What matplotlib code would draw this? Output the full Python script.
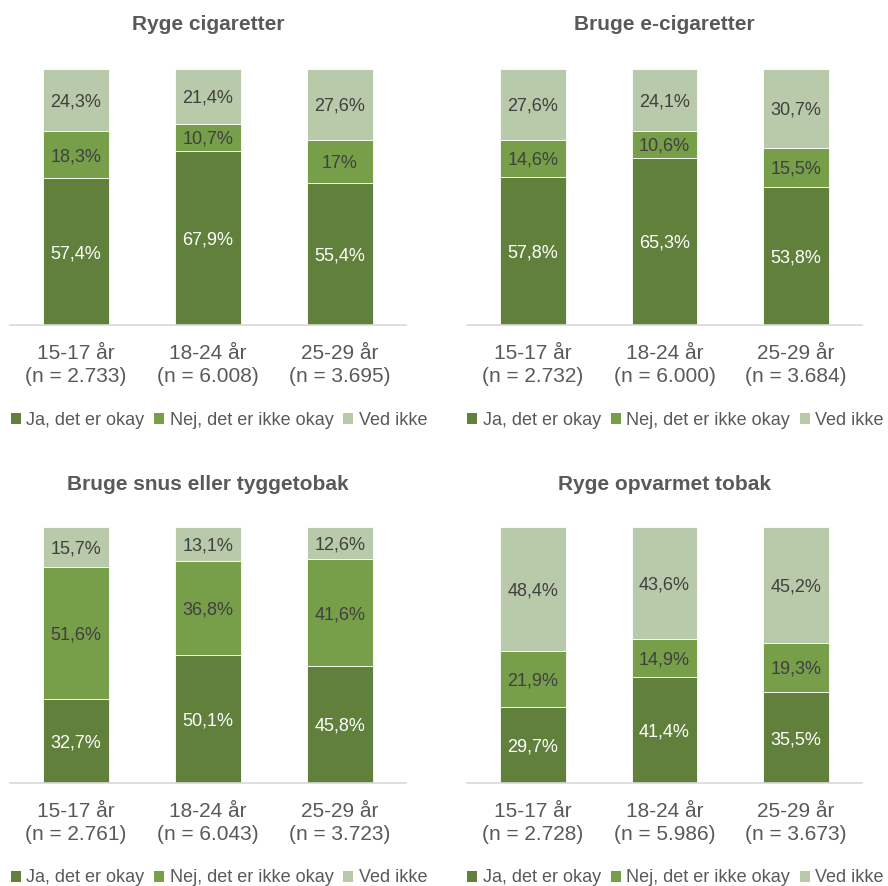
import matplotlib
matplotlib.use("Agg")
import matplotlib.pyplot as plt
from matplotlib.patches import Patch

plt.rcParams['font.family'] = ['Liberation Sans', 'DejaVu Sans']

age_groups = ["15-17 år", "18-24 år", "25-29 år"]
series_names = ["Ja, det er okay", "Nej, det er ikke okay", "Ved ikke"]
colors = ["#61803B", "#779E48", "#B8CAA9"]
label_colors = ["white", "#404040", "#404040"]

titles = ["Ryge cigaretter", "Bruge e-cigaretter",
          "Bruge snus eller tyggetobak", "Ryge opvarmet tobak"]

cig_ja = [57.4, 67.9, 55.4]
cig_nej = [18.3, 10.7, 17.0]
cig_ved = [24.3, 21.4, 27.6]
cig_n = ["2.733", "6.008", "3.695"]

ecig_ja = [57.8, 65.3, 53.8]
ecig_nej = [14.6, 10.6, 15.5]
ecig_ved = [27.6, 24.1, 30.7]
ecig_n = ["2.732", "6.000", "3.684"]

snus_ja = [32.7, 50.1, 45.8]
snus_nej = [51.6, 36.8, 41.6]
snus_ved = [15.7, 13.1, 12.6]
snus_n = ["2.761", "6.043", "3.723"]

opv_ja = [29.7, 41.4, 35.5]
opv_nej = [21.9, 14.9, 19.3]
opv_ved = [48.4, 43.6, 45.2]
opv_n = ["2.728", "5.986", "3.673"]

panels = [
    (cig_ja, cig_nej, cig_ved, cig_n),
    (ecig_ja, ecig_nej, ecig_ved, ecig_n),
    (snus_ja, snus_nej, snus_ved, snus_n),
    (opv_ja, opv_nej, opv_ved, opv_n),
]

W, H = 888, 886
fig = plt.figure(figsize=(W / 100, H / 100), dpi=100)

# axes boxes in pixels: (left, top_of_bar, right, bottom)
boxes = [(10, 69, 406, 325), (467, 69, 862, 325),
         (10, 527, 406, 783), (467, 527, 862, 783)]
title_y = [25, 25, 484, 484]
legend_y = [419, 419, 877, 877]


def fmt(v):
    s = ("%.1f" % v).rstrip("0").rstrip(".")
    return s.replace(".", ",") + "%"


for i, (box, title, data) in enumerate(zip(boxes, titles, panels)):
    l, t, r, b = box
    ax = fig.add_axes([l / W, 1 - b / H, (r - l) / W, (b - t) / H])
    x = list(range(len(age_groups)))
    bottoms = [0.0] * len(x)
    for k, vals in enumerate(data[:3]):
        ax.bar(x, vals, width=0.5, bottom=bottoms, color=colors[k],
               edgecolor="white", linewidth=0.6)
        for xi, v, b0 in zip(x, vals, bottoms):
            ax.text(xi, b0 + v / 2, fmt(v), ha="center", va="center_baseline",
                    fontsize=13, color=label_colors[k])
        bottoms = [bb + v for bb, v in zip(bottoms, vals)]
    ax.set_xlim(-0.5, 2.5)
    ax.set_ylim(0, 100)
    ax.set_yticks([])
    ax.set_xticks(x)
    ax.set_xticklabels([f"{a}\n(n = {n})" for a, n in zip(age_groups, data[3])],
                       fontsize=15, color="#595959", linespacing=1.27)
    ax.tick_params(axis="x", length=0, pad=14)
    for s in ["top", "left", "right"]:
        ax.spines[s].set_visible(False)
    ax.spines["bottom"].set_color("#D9D9D9")
    ax.spines["bottom"].set_linewidth(1.2)
    cx = (l + r) / 2
    fig.text(cx / W, 1 - title_y[i] / H, title, ha="center", va="center",
             fontsize=15, fontweight="bold", color="#595959")
    handles = [Patch(facecolor=c, edgecolor="none") for c in colors]
    fig.legend(handles, series_names, loc="center",
               bbox_to_anchor=((cx + 11) / W, 1 - (legend_y[i] + 1) / H),
               ncol=3, frameon=False, fontsize=13, labelcolor="#595959",
               handlelength=0.55, handleheight=0.55, handletextpad=0.3,
               columnspacing=0.55, borderaxespad=0, borderpad=0)

fig.savefig("out.png", dpi=100, facecolor="white")
